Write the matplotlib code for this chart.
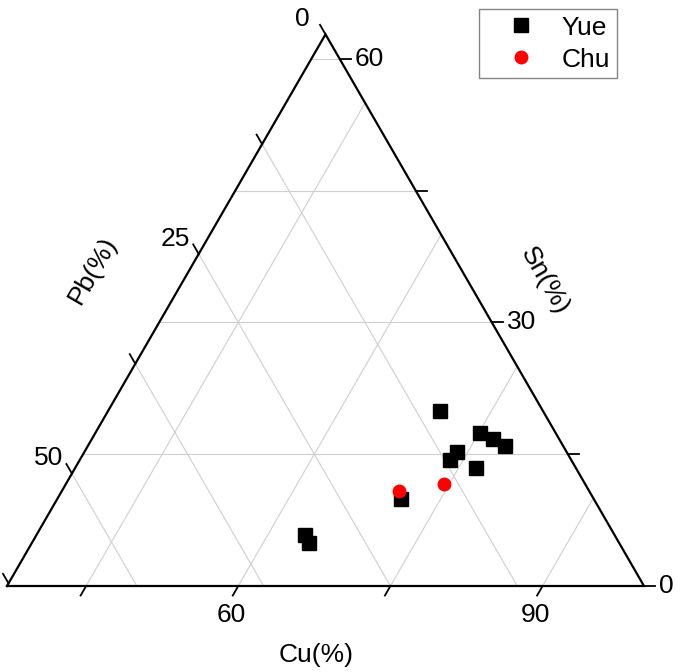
import numpy as np
import matplotlib
matplotlib.use("Agg")
import matplotlib.pyplot as plt

plt.rcParams['font.family'] = ['Liberation Sans', 'DejaVu Sans']

# 数据 (Cu, Sn, Pb %)
yue_cu = [63.7, 64.5, 69.9, 75.1, 76.8, 78.3, 73.9, 73.7, 76.7, 71.1]
yue_sn = [5.8, 4.9, 19.9, 17.4, 16.7, 15.9, 15.3, 14.3, 13.4, 9.9]
yue_pb = [30.5, 30.6, 10.2, 7.5, 6.5, 5.8, 10.8, 12.0, 9.9, 19.0]
chu_cu = [70.4, 74.5]
chu_sn = [10.8, 11.6]
chu_pb = [18.8, 13.9]

cu_ticks = [45, 60, 75, 90]
cu_labels = {60: '60', 90: '90'}
sn_ticks = [0, 15, 30, 45, 60]
sn_labels = {0: '0', 30: '30', 60: '60'}
pb_ticks = [0, 12.5, 25, 37.5, 50, 62.5]
pb_labels = {0: '0', 25: '25', 50: '50'}

# 三角形范围
L = 62.8
CU_MIN = 100 - L
H = np.sqrt(3) / 2
FS = 19


def tern(cu, sn, pb):
    cu, sn, pb = np.asarray(cu, float), np.asarray(sn, float), np.asarray(pb, float)
    tot = cu + sn + pb
    cu, sn = cu / tot * 100, sn / tot * 100
    return cu - CU_MIN + sn / 2, sn * H


s = 637 / L  # px per unit
fig = plt.figure(figsize=(6.85, 6.72), dpi=100)
ax = fig.add_axes([0, 0, 1, 1])
ax.set_xlim(-7 / s, 678 / s)
ax.set_ylim(-86 / s, 586 / s)
ax.axis('off')

grid_kw = dict(color='#cfcfcf', lw=0.8, zorder=1)
# Sn grid (horizontal)
for v in [15, 30, 45, 60]:
    x, y = tern([CU_MIN, 100 - v], [v, v], [L - v, 0])
    ax.plot(x, y, **grid_kw)
# Pb grid
for p in [12.5, 25, 37.5, 50]:
    x, y = tern([CU_MIN, 100 - p], [L - p, 0], [p, p])
    ax.plot(x, y, **grid_kw)
# Cu grid
for c in [45, 60, 75, 90]:
    x, y = tern([c, c], [0, 100 - c], [100 - c, 0])
    ax.plot(x, y, **grid_kw)

# frame
x, y = tern([CU_MIN, 100, CU_MIN, CU_MIN], [0, 0, L, 0], [L, 0, 0, L])
ax.plot(x, y, color='black', lw=1.6, zorder=3, solid_joinstyle='miter')

tl = 11 / s
tick_kw = dict(color='black', lw=1.3, zorder=3)
lab_kw = dict(textcoords='offset points', fontsize=FS, ha='center', va='center')
for c in cu_ticks:
    bx, by = tern(c, 0, 100 - c)
    ax.plot([bx, bx - 0.5 * tl], [by, by - H * tl], **tick_kw)
    if c in cu_labels:
        ax.annotate(cu_labels[c], (bx, by), xytext=(-5, -21), **lab_kw)
for v in sn_ticks:
    bx, by = tern(100 - v, v, 0)
    ax.plot([bx, bx + tl], [by, by], **tick_kw)
    if v in sn_labels:
        ax.annotate(sn_labels[v], (bx, by), xytext=(11, 0),
                    textcoords='offset points', fontsize=FS, ha='left', va='center')
for p in pb_ticks:
    bx, by = tern(CU_MIN, L - p, p)
    ax.plot([bx, bx - 0.5 * tl], [by, by + H * tl], **tick_kw)
    if p in pb_labels:
        ax.annotate(pb_labels[p], (bx, by), xytext=(-17, 11), **lab_kw)

# points
x, y = tern(yue_cu, yue_sn, yue_pb)
ax.plot(x, y, 's', color='black', ms=9.5, ls='none', label='Yue', zorder=4)
x, y = tern(chu_cu, chu_sn, chu_pb)
ax.plot(x, y, 'o', color='red', ms=9, ls='none', label='Chu', zorder=5)

fig.text(316 / 685, 1 - 655 / 672, 'Cu(%)', fontsize=FS, ha='center', va='center')
fig.text(93 / 685, 1 - 270 / 672, 'Pb(%)', fontsize=FS, ha='center', va='center',
         rotation=60, rotation_mode='anchor')
fig.text(545 / 685, 1 - 281 / 672, 'Sn(%)', fontsize=FS, ha='center', va='center',
         rotation=-60, rotation_mode='anchor')

leg = ax.legend(loc='upper left', bbox_to_anchor=(479 / 685, 1 - 9 / 672),
                bbox_transform=fig.transFigure, fontsize=FS, frameon=True,
                fancybox=False, borderaxespad=0, borderpad=0.25, handlelength=2.68,
                handletextpad=0.2, labelspacing=0.3)
leg.get_frame().set_edgecolor('#666666')
leg.get_frame().set_linewidth(1.0)

fig.savefig('out.png', dpi=100)
